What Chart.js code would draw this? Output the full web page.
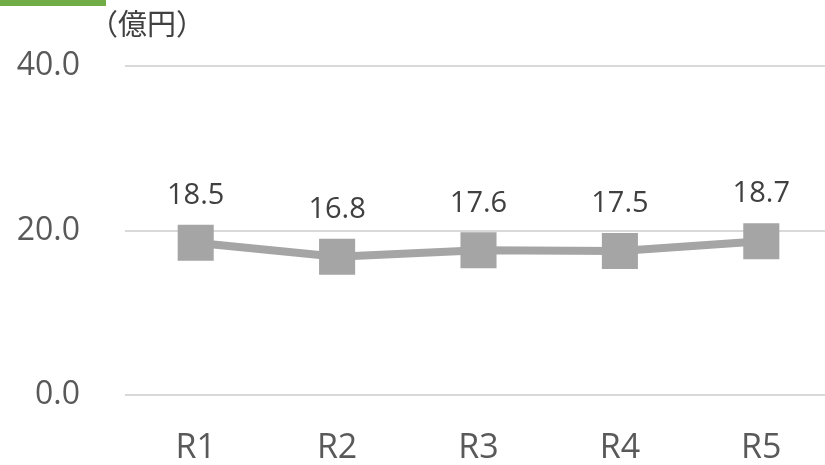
<!DOCTYPE html>
<html>
<head>
<meta charset="utf-8">
<script src="https://cdn.jsdelivr.net/npm/chart.js@4/dist/chart.umd.min.js"></script>
<style>
  html, body { margin: 0; padding: 0; background: #ffffff; overflow: hidden; }
  #wrap { position: relative; width: 835px; height: 465px; }
  #accent { position: absolute; left: 0; top: 0; width: 106px; height: 6px; background: #70AD47; z-index: 2; }
  canvas { position: absolute; left: 0; top: 0; }
</style>
</head>
<body>
<div id="wrap">
  <div id="accent"></div>
  <canvas id="c" width="835" height="465"></canvas>
</div>
<script>
// 年度ごとの金額（億円）
const categories = ['R1', 'R2', 'R3', 'R4', 'R5'];
const amounts = [18.5, 16.8, 17.6, 17.5, 18.7];
const yTicks = [0, 20, 40];
const unitLabel = '（億円）';

const FONT = "'Open Sans', 'Noto Sans CJK JP', sans-serif";

// 各点の上に値を表示
const valueLabels = {
  id: 'valueLabels',
  afterDatasetsDraw(chart) {
    const ctx = chart.ctx;
    const meta = chart.getDatasetMeta(0);
    ctx.save();
    ctx.font = '29px ' + FONT;
    ctx.fillStyle = '#404040';
    ctx.textAlign = 'center';
    ctx.textBaseline = 'middle';
    meta.data.forEach((pt, i) => {
      ctx.fillText(amounts[i].toFixed(1), pt.x, pt.y - 47);
    });
    ctx.restore();
  }
};

// 単位の表示
const unitText = {
  id: 'unitText',
  afterDraw(chart) {
    const ctx = chart.ctx;
    const area = chart.chartArea;
    ctx.save();
    ctx.font = '29px ' + FONT;
    ctx.fillStyle = '#404040';
    ctx.textAlign = 'center';
    ctx.textBaseline = 'middle';
    ctx.fillText(unitLabel, area.left + 22, area.top - 39);
    ctx.restore();
  }
};

new Chart(document.getElementById('c'), {
  type: 'line',
  data: {
    labels: categories,
    datasets: [{
      data: amounts,
      borderColor: '#A5A5A5',
      backgroundColor: '#A5A5A5',
      borderWidth: 8,
      tension: 0,
      pointStyle: 'rect',
      pointRadius: 25.5,
      pointBorderWidth: 0,
      pointBackgroundColor: '#A5A5A5',
      pointHoverRadius: 25.5
    }]
  },
  options: {
    responsive: false,
    animation: false,
    layout: { autoPadding: false, padding: { top: 66, right: 3, left: 0, bottom: 0 } },
    plugins: {
      legend: { display: false },
      tooltip: { enabled: false }
    },
    scales: {
      x: {
        offset: true,
        grid: { display: false, drawTicks: false },
        border: { display: false },
        ticks: { color: '#595959', font: { family: FONT, size: 34 }, padding: 33, maxRotation: 0 },
        afterFit(scale) {
          scale.height = 70;
          scale.paddingLeft = 0;
          scale.paddingRight = 0;
        }
      },
      y: {
        min: 0,
        max: 40,
        afterBuildTicks(scale) { scale.ticks = yTicks.map(v => ({ value: v })); },
        grid: { color: '#D9D9D9', lineWidth: 2, drawTicks: false },
        border: { display: false },
        ticks: {
          color: '#595959',
          font: { family: FONT, size: 32 },
          padding: 45,
          callback: v => Number(v).toFixed(1)
        },
        afterFit(scale) { scale.width = 125; }
      }
    }
  },
  plugins: [valueLabels, unitText]
});
</script>
</body>
</html>
